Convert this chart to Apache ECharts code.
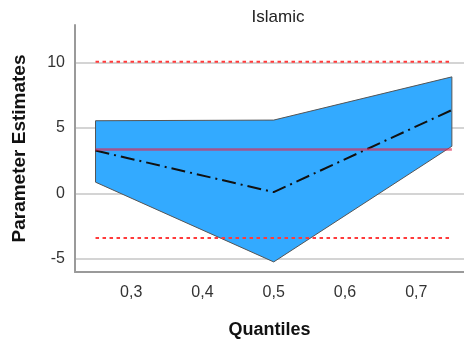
<!DOCTYPE html>
<html><head><meta charset="utf-8">
<script src="https://cdn.jsdelivr.net/npm/echarts@6/dist/echarts.min.js"></script>
<style>html,body{margin:0;padding:0;background:#fff}#c{width:464px;height:344px}</style>
</head><body><div id="c"></div>
<script>
const quantiles = [0.25, 0.5, 0.75];
const estimate = [3.27, 0.1, 6.37];
const upperCI = [5.55, 5.6, 8.9];
const lowerCI = [0.86, -5.23, 3.6];
const olsEstimate = 3.35;
const olsUpper = 10.05;
const olsLower = -3.4;
const xTicks = [0.3, 0.4, 0.5, 0.6, 0.7];
const yTicks = [-5, 0, 5, 10];

const font = 'Liberation Sans, Arial, sans-serif';
const chart = echarts.init(document.getElementById('c'), null, {renderer: 'canvas'});
const xFirst = quantiles[0], xLast = quantiles[quantiles.length - 1];

chart.setOption({
  animation: false,
  title: {text: 'Islamic', left: 273, top: 4, textAlign: 'center',
    textStyle: {fontFamily: font, fontSize: 17, fontWeight: 'normal', color: '#222'}},
  grid: {left: 75, right: 0, top: 25, bottom: 72, containLabel: false, outerBoundsMode: 'none'},
  xAxis: {
    type: 'value', min: 0.2212, max: 0.767,
    name: 'Quantiles', nameLocation: 'middle', nameGap: 49,
    nameTextStyle: {fontFamily: font, fontSize: 18, fontWeight: 'bold', color: '#111'},
    axisLine: {show: true, onZero: false, lineStyle: {color: '#9a9a9a', width: 2}},
    axisTick: {show: false},
    splitLine: {show: false},
    axisLabel: {customValues: xTicks, margin: 13, fontFamily: font, fontSize: 16, color: '#333',
      formatter: v => String(Math.round(v * 10) / 10).replace('.', ',')}
  },
  yAxis: {
    type: 'value', min: -6, max: 12.86,
    name: 'Parameter Estimates', nameLocation: 'middle', nameGap: 46, nameRotate: 90,
    nameTextStyle: {fontFamily: font, fontSize: 19, fontWeight: 'bold', color: '#111'},
    axisLine: {show: true, onZero: false, lineStyle: {color: '#9a9a9a', width: 2}},
    axisTick: {show: false},
    splitLine: {show: false},
    axisLabel: {customValues: yTicks, margin: 10, fontFamily: font, fontSize: 16, color: '#333'}
  },
  series: [
    {
      type: 'line', data: [], z: 0, silent: true,
      markLine: {silent: true, z: 0, symbol: 'none', animation: false, label: {show: false},
        lineStyle: {color: '#d4d4d4', width: 2, type: 'solid'},
        data: yTicks.map(v => ({yAxis: v}))}
    },
    {
      type: 'custom', z: 2, silent: true, data: [0],
      renderItem: (params, api) => {
        const pts = [];
        quantiles.forEach((q, i) => pts.push(api.coord([q, upperCI[i]])));
        for (let i = quantiles.length - 1; i >= 0; i--) pts.push(api.coord([quantiles[i], lowerCI[i]]));
        return {type: 'polygon', shape: {points: pts},
          style: {fill: '#33aaff', stroke: '#555', lineWidth: 1}};
      }
    },
    {
      type: 'line', z: 3, symbol: 'none', silent: true,
      data: quantiles.map((q, i) => [q, estimate[i]]),
      lineStyle: {color: '#111', width: 2, type: [14, 5, 2, 5]}
    },
    {
      type: 'line', z: 4, symbol: 'none', silent: true,
      data: [[xFirst, olsEstimate], [xLast, olsEstimate]],
      lineStyle: {color: 'rgba(225,40,80,0.65)', width: 2.5}
    },
    {
      type: 'line', z: 4, symbol: 'none', silent: true,
      data: [[xFirst, olsUpper], [xLast, olsUpper]],
      lineStyle: {color: '#ff3b3b', width: 2, type: [3.5, 3.5]}
    },
    {
      type: 'line', z: 4, symbol: 'none', silent: true,
      data: [[xFirst, olsLower], [xLast, olsLower]],
      lineStyle: {color: '#ff3b3b', width: 2, type: [3.5, 3.5]}
    }
  ]
});
</script></body></html>
